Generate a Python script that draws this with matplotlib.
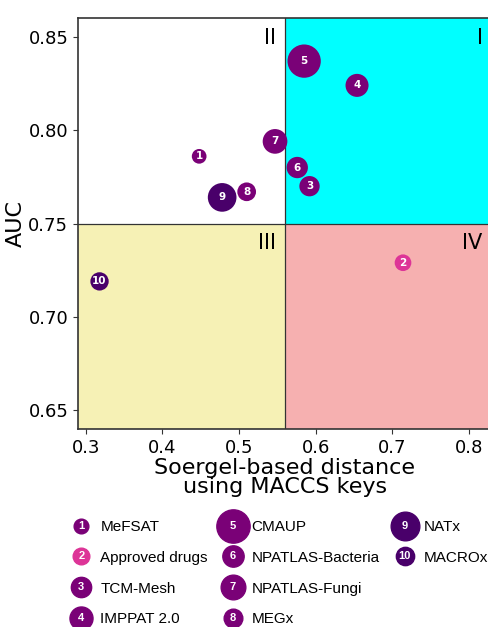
import numpy as np
import matplotlib
matplotlib.use("Agg")
import matplotlib.pyplot as plt
from matplotlib.legend_handler import HandlerBase
from matplotlib.lines import Line2D
from matplotlib.text import Text

# data
names = ["MeFSAT", "Approved drugs", "TCM-Mesh", "IMPPAT 2.0", "CMAUP",
         "NPATLAS-Bacteria", "NPATLAS-Fungi", "MEGx", "NATx", "MACROx"]
nums = ["1", "2", "3", "4", "5", "6", "7", "8", "9", "10"]
dist = [0.448, 0.714, 0.592, 0.654, 0.585, 0.576, 0.547, 0.510, 0.478, 0.318]
auc = [0.786, 0.729, 0.770, 0.824, 0.837, 0.780, 0.794, 0.767, 0.764, 0.719]
sizes = [112, 144, 214, 275, 575, 236, 316, 181, 426, 174]
colors = ["#7a0177", "#dd3497", "#7a0177", "#7a0177", "#7a0177",
          "#7a0177", "#7a0177", "#7a0177", "#49006a", "#49006a"]

x_split = 0.56
y_split = 0.75
xlim = (0.29, 0.83)
ylim = (0.64, 0.86)


class Badge:
    def __init__(self, color, size, num):
        self.color = color
        self.size = size
        self.num = num


class BadgeHandler(HandlerBase):
    def create_artists(self, legend, h, xdescent, ydescent, width, height, fontsize, trans):
        cx = width / 2 - xdescent
        cy = height / 2 - ydescent
        dot = Line2D([cx], [cy], marker='o', markersize=np.sqrt(h.size),
                     color=h.color, linestyle='none', transform=trans)
        if h.num == "":
            dot.set_visible(False)
            return [dot]
        txt = Text(cx, cy, h.num, color='white', fontweight='bold', fontsize=8,
                   family='Liberation Sans', ha='center', va='center', transform=trans)
        return [dot, txt]


fig = plt.figure(figsize=(4.88, 6.27), dpi=100)
ax = fig.add_axes([0.16, 0.316, 0.848, 0.655])

# quadrant backgrounds
ax.fill_between([x_split, xlim[1]], y_split, ylim[1], color="#00ffff", zorder=0, lw=0)
ax.fill_between([xlim[0], x_split], ylim[0], y_split, color="#f6f1b5", zorder=0, lw=0)
ax.fill_between([x_split, xlim[1]], ylim[0], y_split, color="#f6b0b0", zorder=0, lw=0)
ax.axvline(x_split, color="#333333", lw=0.9, zorder=1)
ax.axhline(y_split, color="#333333", lw=0.9, zorder=1)

ax.scatter(dist, auc, s=sizes, c=colors, zorder=3, linewidths=0)
for x, y, n in zip(dist, auc, nums):
    ax.text(x, y, n, color='white', fontweight='bold', fontsize=7.5,
            ha='center', va='center', zorder=4)

qfs = 15
ax.text(x_split - 0.012, ylim[1] - 0.005, "II", ha='right', va='top', fontsize=qfs)
ax.text(xlim[1] - 0.012, ylim[1] - 0.005, "I", ha='right', va='top', fontsize=qfs)
ax.text(x_split - 0.012, y_split - 0.005, "III", ha='right', va='top', fontsize=qfs)
ax.text(xlim[1] - 0.012, y_split - 0.005, "IV", ha='right', va='top', fontsize=qfs)

ax.set_xlim(xlim)
ax.set_ylim(ylim)
ax.set_xticks([0.3, 0.4, 0.5, 0.6, 0.7, 0.8])
ax.set_yticks([0.65, 0.70, 0.75, 0.80, 0.85])
ax.tick_params(labelsize=13, color="#333333")
for s in ax.spines.values():
    s.set_color("#333333")
    s.set_linewidth(1.2)
ax.set_xlabel("Soergel-based distance\nusing MACCS keys", fontsize=16, linespacing=0.95, labelpad=1)
ax.set_ylabel("AUC", fontsize=16, labelpad=2)

# two blank entries so the columns hold 4, 4 and 2 items
handles = [Badge(c, s, n) for c, s, n in zip(colors, sizes, nums)]
handles += [Badge("white", 1, ""), Badge("white", 1, "")]
labels = names + ["", ""]
fig.legend(handles, labels, handler_map={Badge: BadgeHandler()},
           loc='upper left', bbox_to_anchor=(66 / 488, 1 - 520 / 627),
           ncol=3, frameon=False, borderpad=0, borderaxespad=0,
           prop={'family': 'Liberation Sans', 'size': 11},
           handlelength=2, handletextpad=0.25, columnspacing=0.62,
           labelspacing=1.1)

fig.savefig("out.png", dpi=100)
